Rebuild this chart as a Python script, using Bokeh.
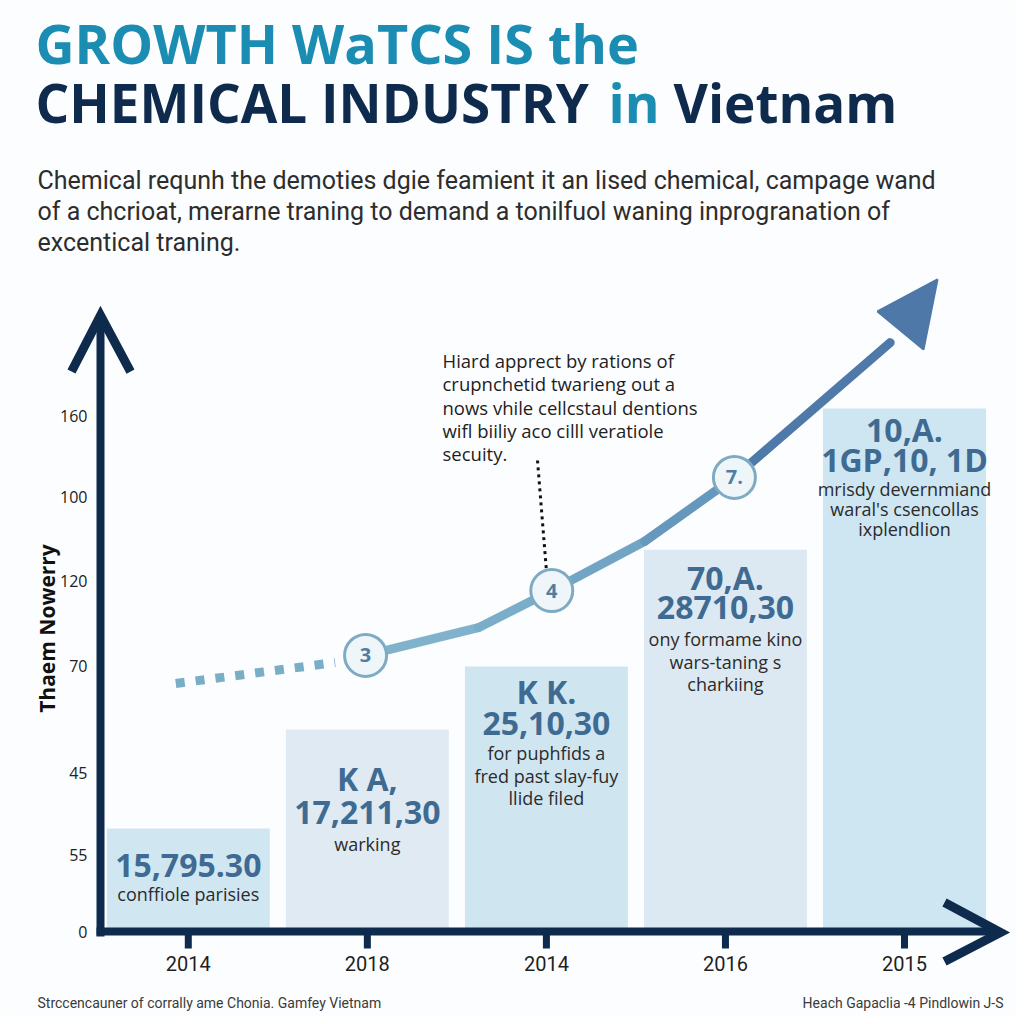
import math
from bokeh.plotting import figure
from bokeh.models import Range1d
from bokeh.core.properties import value
from bokeh.embed import file_html
from bokeh.resources import INLINE

# ---------------- data ----------------
years = ["2014", "2018", "2014", "2016", "2015"]
bar_values = [31.9, 62.6, 82.2, 118.4, 162.2]
bar_headlines = ["", "K A,", "K K.", "70,A.", "10,A."]
bar_figures = ["15,795.30", "17,211,30", "25,10,30", "28710,30", "1GP,10, 1D"]
bar_notes = [
    ["conffiole parisies"],
    ["warking"],
    ["for puphfids a", "fred past slay-fuy", "llide filed"],
    ["ony formame kino", "wars-taning s", "charkiing"],
    ["mrisdy devernmiand", "waral's csencollas", "ixplendlion"],
]
y_tick_values = [160, 134.6, 108.8, 82.2, 49.3, 23.6, 0]
y_tick_labels = ["160", "100", "120", "70", "45", "55", "0"]

lead_x = [-0.07, 0.82]
lead_y = [76.9, 83.4]
growth_x = [0.99, 1.62, 2.03, 2.55, 3.05, 3.92]
growth_y = [85.6, 94.2, 105.7, 121.0, 140.8, 182.6]
milestone_idx = [0, 2, 4]
milestone_labels = ["3", "4", "7."]

title_line1 = "GROWTH WaTCS IS the"
title_line2 = ["CHEMICAL INDUSTRY", "in", "Vietnam"]
paragraph = [
    "Chemical requnh the demoties dgie feamient it an lised chemical, campage wand",
    "of a chcrioat, merarne traning to demand a tonilfuol waning inprogranation of",
    "excentical traning.",
]
callout = [
    "Hiard apprect by rations of",
    "crupnchetid twarieng out a",
    "nows vhile cellcstaul dentions",
    "wifl biiliy aco cilll veratiole",
    "secuity.",
]
y_title = "Thaem Nowerry"
footer_left = "Strccencauner of corrally ame Chonia. Gamfey Vietnam"
footer_right = "Heach Gapaclia -4 Pindlowin J-S"

# ---------------- layout helpers (reference-page pixels -> data) ----------------
W = H = 1016
X0, DX = 187.8, 179.05
Y0, KY = 931.0, 3.225


def X(px):
    return (px - X0) / DX


def Y(py):
    return (Y0 - py) / KY


NAVY = "#0e2a4c"
TEAL = "#1b8db3"
STEEL = "#3f6b92"
OPEN = value("Open Sans")
ROBO = value("Roboto")

p = figure(width=W, height=H, output_backend="svg", toolbar_location=None,
           x_range=Range1d(X(0), X(W)), y_range=Range1d(Y(H), Y(0)),
           x_axis_location=None, y_axis_location=None, title=None,
           min_border=0, tools="")
p.outline_line_color = None
p.background_fill_color = "#fcfdfe"
p.border_fill_color = "#fcfdfe"
p.xgrid.visible = False
p.ygrid.visible = False

idx = list(range(len(years)))

# bars
bar_colors = ["#d0e7f2", "#dfeaf2", "#cfe6f1", "#dde9f2", "#cde6f2"]
p.vbar(x=idx, top=bar_values, bottom=0, width=0.91, fill_color=bar_colors, line_color=None)

# axes (drawn)
p.segment(x0=[X(100)], y0=[Y(936)], x1=[X(100)], y1=[Y(318)], line_color=NAVY, line_width=8)
p.line(x=[X(71), X(100), X(130)], y=[Y(371), Y(315), Y(371)], line_color=NAVY, line_width=9,
       line_join="miter")
p.segment(x0=[X(96)], y0=[0], x1=[X(996)], y1=[0], line_color=NAVY, line_width=8)
p.line(x=[X(944), X(1000), X(944)], y=[Y(902), Y(932), Y(961)], line_color=NAVY, line_width=9,
       line_join="miter")
p.segment(x0=idx, y0=[Y(934)] * 5, x1=idx, y1=[Y(948)] * 5, line_color=NAVY, line_width=7)

# y tick labels and title
p.text(x=[X(87)] * len(y_tick_values), y=y_tick_values, text=y_tick_labels,
       text_font=OPEN, text_font_size=value("16px"), text_color="#222222",
       text_align="right", text_baseline="middle")
p.text(x=[X(46)], y=[Y(628)], text=[y_title], angle=math.pi / 2,
       text_font=OPEN, text_font_size=value("21px"), text_font_style="bold",
       text_color="#111111", text_align="center", text_baseline="middle")

# x tick labels
p.text(x=idx, y=[Y(963)] * 5, text=years, text_font=ROBO, text_font_size=value("20px"),
       text_color="#1f1f1f", text_align="center", text_baseline="middle")

# growth line
p.line(x=lead_x, y=lead_y, line_color="#7aaec6", line_width=9, line_dash="9 11")
seg_colors = ["#80b3cb", "#7aaec8", "#72a5c4", "#6697bd", "#4e79a8"]
p.segment(x0=growth_x[:-1], y0=growth_y[:-1], x1=growth_x[1:], y1=growth_y[1:],
          line_color=seg_colors, line_width=9, line_cap="round")
p.patch(x=[X(937), X(877), X(923)], y=[Y(279), Y(311), Y(349)], fill_color="#4d78a8",
        line_color="#4d78a8", line_width=2)

# callout dotted leader
p.line(x=[X(537), X(546)], y=[Y(460), Y(571)], line_color="#111111", line_width=3,
       line_dash="3 4")

# milestones
mx = [growth_x[i] for i in milestone_idx]
my = [growth_y[i] for i in milestone_idx]
p.scatter(x=mx, y=my, size=42, marker="circle", fill_color="#eef6f9",
          line_color="#7eabc3", line_width=3)
p.text(x=mx, y=my, text=milestone_labels, text_font=OPEN, text_font_size=value("20px"),
       text_font_style="bold", text_color="#4f7ea3", text_align="center", text_baseline="middle")

# bar texts
head_py = [None, 778, 691, 577, 429]
fig_py = [865, 812, 723, 607, 459]
note_py = [[893], [843], [752, 775, 797], [638, 661, 683], [488, 508, 528]]
hx, hy, ht = [], [], []
for i, h in enumerate(bar_headlines):
    if h:
        hx.append(i)
        hy.append(Y(head_py[i]))
        ht.append(h)
p.text(x=hx, y=hy, text=ht, text_font=OPEN, text_font_size=value("32px"), text_font_style="bold",
       text_color=STEEL, text_align="center", text_baseline="middle")
p.text(x=idx, y=[Y(v) for v in fig_py], text=bar_figures, text_font=OPEN,
       text_font_size=value("32px"), text_font_style="bold", text_color=STEEL,
       text_align="center", text_baseline="middle")
nx, ny, nt = [], [], []
for i, notes in enumerate(bar_notes):
    for line, py in zip(notes, note_py[i]):
        nx.append(i)
        ny.append(Y(py))
        nt.append(line)
p.text(x=nx, y=ny, text=nt, text_font=OPEN, text_font_size=value("18px"),
       text_color="#2b2b2b", text_align="center", text_baseline="middle")

# callout text
p.text(x=[X(442)] * len(callout), y=[Y(360 + 23.3 * k) for k in range(len(callout))],
       text=callout, text_font=OPEN, text_font_size=value("18.5px"), text_color="#1e1e1e",
       text_align="left", text_baseline="middle")

# title
p.text(x=[X(35)], y=[Y(42)], text=[title_line1], text_font=OPEN, text_font_size=value("54px"),
       text_font_style="bold", text_color=TEAL, text_align="left", text_baseline="middle")
p.text(x=[X(35), X(608), X(673)], y=[Y(102)] * 3, text=title_line2, text_font=OPEN,
       text_font_size=value("53px"), text_font_style="bold", text_color=[NAVY, TEAL, NAVY],
       text_align="left", text_baseline="middle")

# paragraph
p.text(x=[X(37)] * 3, y=[Y(180), Y(211), Y(242)], text=paragraph, text_font=ROBO,
       text_font_size=value("25px"), text_color="#2d2d2d", text_align="left",
       text_baseline="middle")

# footer
p.text(x=[X(37)], y=[Y(1002)], text=[footer_left], text_font=ROBO, text_font_size=value("14px"),
       text_color="#3a3a3a", text_align="left", text_baseline="middle")
p.text(x=[X(1003)], y=[Y(1002)], text=[footer_right], text_font=ROBO,
       text_font_size=value("14px"), text_color="#3a3a3a", text_align="right",
       text_baseline="middle")

open("out.html", "w").write(file_html(p, INLINE))
